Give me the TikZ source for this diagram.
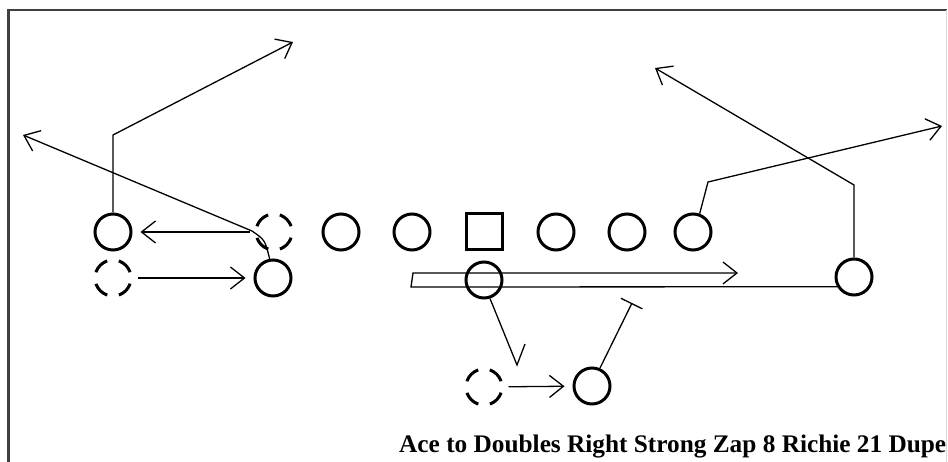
\documentclass[tikz,border=0pt]{standalone}
\usepackage{fontspec}
\setmainfont{Liberation Serif}
\usepackage{graphicx}
\usetikzlibrary{arrows.meta}
\tikzset{
  plr/.style={circle,draw,line width=3pt,minimum size=36pt,inner sep=0pt},
  ghost/.style={plr,dash pattern=on 16.5pt off 11.77pt,dash phase=22.4pt},
  ctr/.style={rectangle,draw,line width=3pt,minimum size=36pt,inner sep=0pt},
  route/.style={line width=1.3pt,-{Straight Barb[length=14pt,width=22pt]}},
  mv/.style={route,shorten <=5pt,shorten >=8pt},
  blk/.style={line width=1.3pt,-{Bar[width=24pt]}}
}
\begin{document}
\begin{tikzpicture}[x=1pt,y=-1pt]
\useasboundingbox (0,0) rectangle (948,462);
\draw[black!75,line width=2.4pt] (8.5,462) -- (8.5,10) -- (946.5,10);
\draw[black!15,line width=1pt] (946.5,10) -- (946.5,462);
% line of scrimmage
\foreach \x/\n in {341/lt,412/lg,556/rg,627/rt,693/te}
{
    \node[plr] (\n) at (\x,232) {};
}
\node[ctr] (c) at (484,232) {};
\node[plr] (lwr) at (113,232) {};
\node[ghost] (olwr) at (274,232) {};
\node[ghost] (oslot) at (113,278) {};
\node[plr] (slot) at (273,278) {};
\node[plr] (hb) at (484,280) {};
\node[plr] (rwr) at (854,277) {};
\node[ghost] (ofb) at (484,387) {};
\node[plr] (fb) at (592,386) {};
% route points
\coordinate (lwra) at (113,135);
\coordinate (lwrb) at (293,42);
\coordinate (slota) at (252,231);
\coordinate (slotb) at (23,135);
\coordinate (tea) at (708,182);
\coordinate (teb) at (942,126);
\coordinate (rwra) at (854,185);
\coordinate (rwrb) at (655,68);
\coordinate (mva) at (411,287);
\coordinate (mvb) at (413,273);
\coordinate (mvc) at (738,273);
\coordinate (hba) at (517,365);
\coordinate (hbb) at (525,344);
\coordinate (fba) at (632,303);
% routes
\draw[route] (lwr.north) -- (lwra) -- (lwrb);
\draw[route] (slot.100) .. controls (265,240) .. (slota) -- (slotb);
\draw[route] (te.70) -- (tea) -- (teb);
\draw[route] (rwr.north) -- (rwra) -- (rwrb);
\draw[route] (rwr.210) -- (mva) -- (mvb) -- (mvc);
\draw[line width=1.3pt] (hb.-72) -- (hba) -- (hbb);
\draw[blk] (fb.66) -- (fba);
% shifts
\draw[mv] (olwr) -- (lwr);
\draw[mv] (oslot) -- (slot);
\draw[mv] (ofb) -- (fb);
\node[anchor=base west,inner sep=0pt] (title) at (399,452)
    {\resizebox{547pt}{!}{\bfseries Ace to Doubles Right Strong Zap 8 Richie 21 Dupe}};
\end{tikzpicture}
\end{document}
